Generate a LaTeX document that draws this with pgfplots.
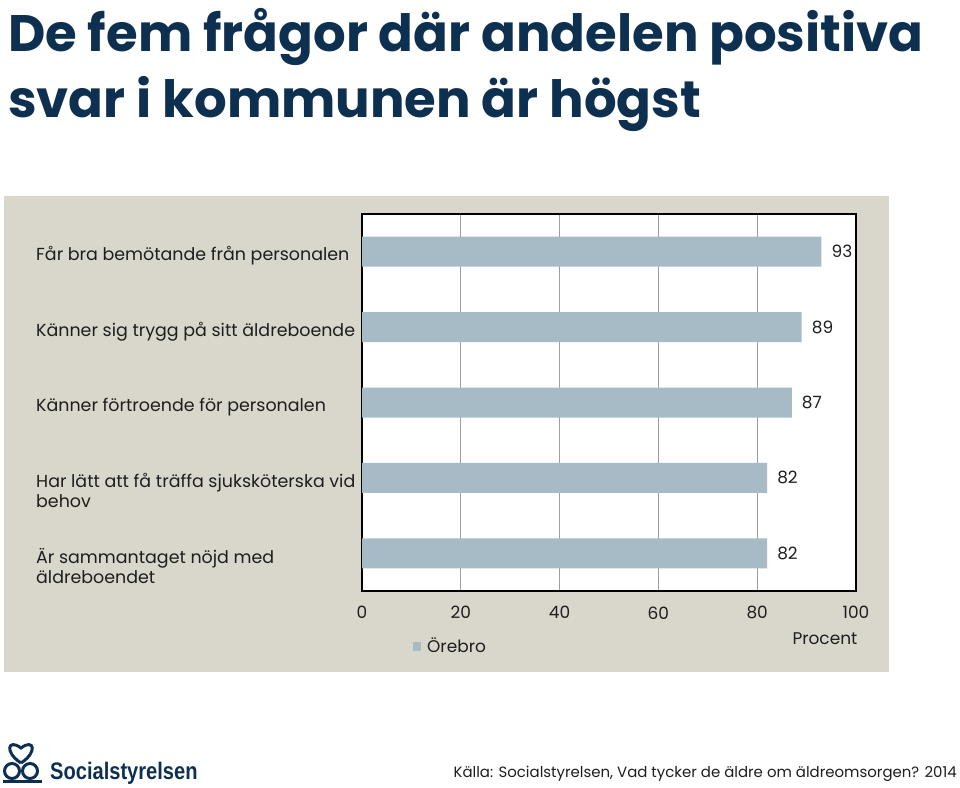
\documentclass[border=0pt]{standalone}
\usepackage{pgfplots}
\pgfplotsset{compat=1.18}
\usepackage{fontspec}
\setmainfont{Poppins}
\newfontfamily\logofont{Liberation Sans}

\definecolor{barc}{HTML}{A7BBC6}
\definecolor{panel}{HTML}{D9D7CB}
\definecolor{titlec}{HTML}{0E3050}
\definecolor{txt}{HTML}{1E1E1E}

\begin{document}
\begin{tikzpicture}
% page and grey panel (1px = 1bp, y grows downwards)
\fill[white] (0bp,0bp) rectangle (960bp,-788bp);
\fill[panel] (4bp,-196bp) rectangle (889bp,-672bp);

% title
\node[anchor=base west, inner sep=0pt, text=titlec, font=\fontsize{51.5}{60}\selectfont\bfseries]
  at (8bp,-51bp) {De fem frågor där andelen positiva};
\node[anchor=base west, inner sep=0pt, text=titlec, font=\fontsize{51.5}{60}\selectfont\bfseries]
  at (8bp,-117bp) {svar i kommunen är högst};

\begin{axis}[
    at={(362bp,-591bp)}, anchor=south west,
    scale only axis,
    width=494bp, height=377bp,
    xbar,
    bar width=30bp,
    xmin=0, xmax=100,
    ymin=0.5, ymax=5.5,
    axis background/.style={fill=white},
    axis line style={black, line width=2.8bp},
    xmajorgrids,
    grid style={gray!75, line width=0.8bp},
    xtick={0,20,...,100},
    ytick={1,...,5},
    yticklabels={{\strut Är sammantaget nöjd med\\\strut äldreboendet},
                 {\strut Har lätt att få träffa sjuksköterska vid\\\strut behov},
                 {\strut Känner förtroende för personalen},
                 {\strut Känner sig trygg på sitt äldreboende},
                 {\strut Får bra bemötande från personalen}},
    major tick length=0pt,
    /pgf/number format/assume math mode=true,
    xticklabel style={font=\fontsize{17}{20}\selectfont, text=txt, yshift=-12bp},
    yticklabel style={font=\fontsize{17.5}{21}\selectfont, text=txt, anchor=north west,
        align=left, inner sep=0pt, xshift=-326bp, yshift=5.7bp},
    nodes near coords,
    nodes near coords style={anchor=west, inner sep=0pt, xshift=10bp,
        font=\fontsize{17}{20}\selectfont, text=txt},
    xlabel={Procent},
    xlabel style={at={(axis description cs:0.937,0)}, anchor=center, yshift=-48bp,
        font=\fontsize{17}{20}\selectfont, text=txt},
    legend style={at={(axis description cs:0,0)}, anchor=west, xshift=48bp, yshift=-55bp,
        draw=none, fill=none, font=\fontsize{17}{20}\selectfont, text=txt},
    legend image code/.code={\fill[barc] (0bp,-4.5bp) rectangle (8bp,4.5bp);},
    ]
\addplot[fill=barc, draw=none] coordinates {
    (82,1) (82,2) (87,3) (89,4) (93,5)
};
\addlegendentry{\hspace{4bp}Örebro}
\end{axis}

% logo
\begin{scope}[titlec, line width=3bp]
\draw (12bp,-771bp) circle (7.5bp);
\draw (30bp,-771bp) circle (7.5bp);
\draw (21bp,-763bp) .. controls (4bp,-752bp) and (8bp,-738bp) .. (21bp,-748bp)
      .. controls (34bp,-738bp) and (38bp,-752bp) .. (21bp,-763bp);
\draw (3bp,-781bp) -- (42bp,-781bp);
\end{scope}
\node[anchor=base west, inner sep=0pt, text=titlec, xscale=0.84,
      font=\fontsize{24}{28}\selectfont\logofont\bfseries]
  at (50bp,-779bp) {Socialstyrelsen};

% source
\node[anchor=base east, inner sep=0pt, text=txt, font=\fontsize{15}{18}\selectfont]
  at (957bp,-777bp) {Källa: Socialstyrelsen, Vad tycker de äldre om äldreomsorgen? 2014};
\end{tikzpicture}
\end{document}
